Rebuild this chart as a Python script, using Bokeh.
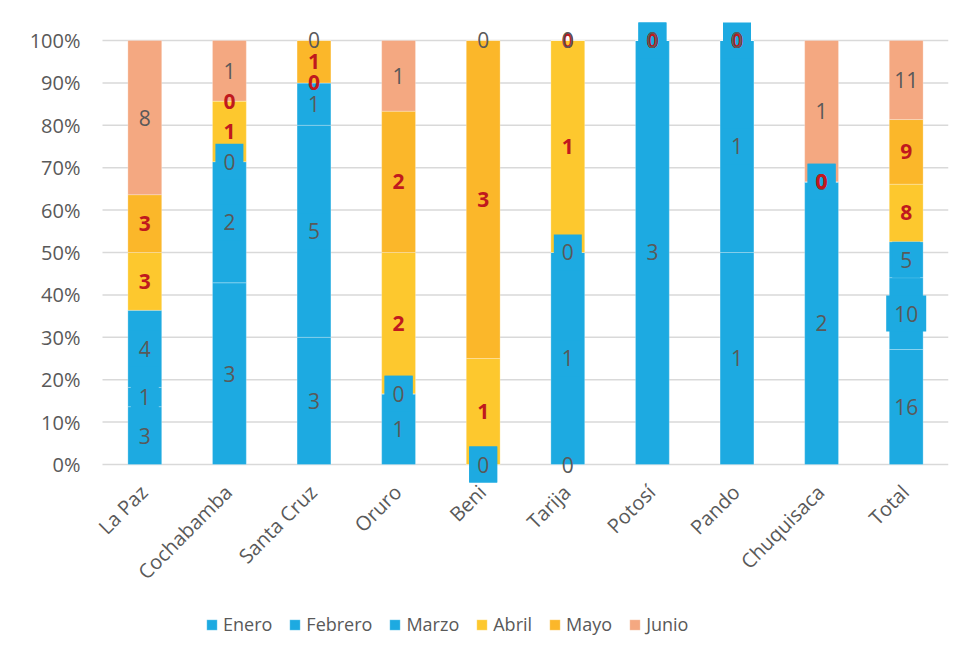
import math
import numpy as np
from bokeh.plotting import figure
from bokeh.models import ColumnDataSource, Range1d, Legend, LegendItem
from bokeh.core.properties import value
from bokeh.embed import file_html
from bokeh.resources import INLINE

# ---------------- data ----------------
categories = ["La Paz", "Cochabamba", "Santa Cruz", "Oruro", "Beni",
              "Tarija", "Potosí", "Pando", "Chuquisaca", "Total"]
months = ["Enero", "Febrero", "Marzo", "Abril", "Mayo", "Junio"]
enero   = [3, 3, 3, 1, 0, 0, 3, 1, 2, 16]
febrero = [1, 2, 5, 0, 0, 1, 0, 1, 0, 10]
marzo   = [4, 0, 1, 0, 0, 0, 0, 0, 0, 5]
abril   = [3, 1, 0, 2, 1, 1, 0, 0, 0, 8]
mayo    = [3, 0, 1, 2, 3, 0, 0, 0, 0, 9]
junio   = [8, 1, 0, 1, 0, 0, 0, 0, 1, 11]
y_ticks = [0.0, 0.1, 0.2, 0.3, 0.4, 0.5, 0.6, 0.7, 0.8, 0.9, 1.0]
y_tick_labels = [f"{int(round(t * 100))}%" for t in y_ticks]

series = [enero, febrero, marzo, abril, mayo, junio]

# ---------------- styles ----------------
BLUE = "#1DAAE1"
fill_colors = [BLUE, BLUE, BLUE, "#FDC82E", "#FBB72A", "#F4A881"]
label_colors = ["#595959", "#595959", "#595959", "#C0191E", "#C0191E", "#595959"]
label_styles = ["normal", "normal", "normal", "bold", "bold", "normal"]
boxed = [False, True, True, False, False, False]
FONT = value("Open Sans")
GRAY = "#595959"

n = len(categories)
xpos = np.arange(n) + 0.5                     # category centres
vals = np.array(series, dtype=float)          # (6, 10)
totals = vals.sum(axis=0)
frac = vals / totals
tops = np.cumsum(frac, axis=0)
bottoms = tops - frac
mids = bottoms + frac / 2

PX_PER_CAT = 84.6
p = figure(width=950, height=650,
           x_range=Range1d(-102 / PX_PER_CAT, n),
           y_range=Range1d(-0.4198, 1.0613), output_backend="svg",
           toolbar_location=None, min_border_left=0, min_border_right=2,
           min_border_top=14, min_border_bottom=8)
p.outline_line_color = None
p.background_fill_color = "white"
p.border_fill_color = "white"
p.xaxis.visible = False
p.yaxis.visible = False
p.xgrid.grid_line_color = None
p.ygrid.grid_line_color = None

# gridlines across the plot area
p.segment(x0=[0] * len(y_ticks), x1=[n] * len(y_ticks), y0=y_ticks, y1=y_ticks,
          line_color="#D9D9D9", line_width=1.5)

# y tick labels
p.text(x=[0] * len(y_ticks), y=y_ticks, text=y_tick_labels, x_offset=-22,
       text_align="right", text_baseline="middle", text_font=FONT,
       text_font_size="20px", text_color=GRAY)

# bars
renderers = []
for i, m in enumerate(months):
    src = ColumnDataSource(dict(x=xpos, top=tops[i], bottom=bottoms[i]))
    r = p.vbar(x="x", top="top", bottom="bottom", width=0.4, source=src,
               fill_color=fill_colors[i], line_color="white", line_alpha=0.25,
               line_width=1)
    renderers.append(r)

# data labels
for i, m in enumerate(months):
    texts = [str(int(v)) for v in series[i]]
    src = ColumnDataSource(dict(x=xpos, y=mids[i], text=texts,
                                bw=[16 + 12 * len(t) for t in texts]))
    if boxed[i]:
        p.rect(x="x", y="y", width="bw", height=36, width_units="screen",
               height_units="screen", source=src, fill_color=BLUE,
               line_color=None)
    p.text(x="x", y="y", text="text", source=src, text_align="center",
           text_baseline="middle", text_font=FONT, text_font_size="21px",
           text_color=label_colors[i], text_font_style=label_styles[i])

# category labels (rotated), anchored under the 0% baseline
cat_src = ColumnDataSource(dict(x=xpos, y=[0.0] * n, text=categories))
p.text(x="x", y="y", text="text", source=cat_src, angle=math.pi / 4,
       text_align="right", text_baseline="middle", x_offset=-1, y_offset=24,
       text_font=FONT, text_font_size="20px", text_color=GRAY)

legend = Legend(items=[LegendItem(label=m, renderers=[renderers[i]])
                       for i, m in enumerate(months)],
                orientation="horizontal", location=(205, 6),
                glyph_width=13, glyph_height=13, spacing=16,
                label_standoff=5, label_text_font="Open Sans",
                label_text_font_size="18px", label_text_color=GRAY,
                border_line_color=None, background_fill_alpha=0,
                margin=0, padding=0)
p.add_layout(legend, "center")

open("out.html", "w").write(file_html(p, INLINE))
